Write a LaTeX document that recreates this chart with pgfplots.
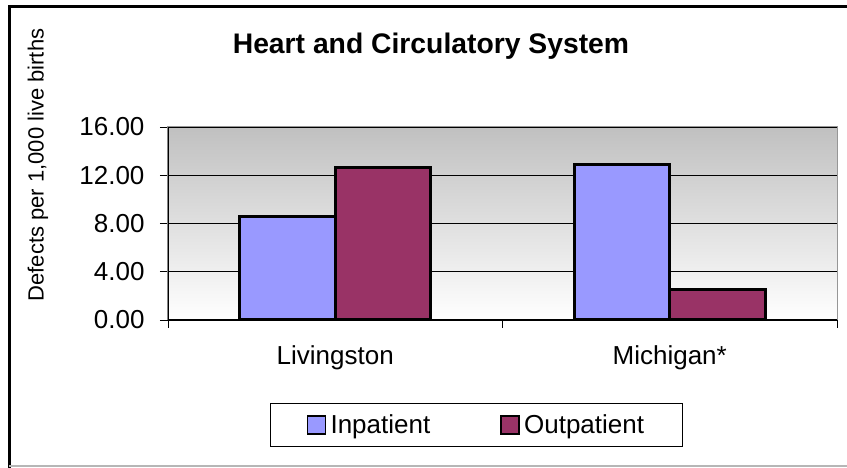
\documentclass[border=0pt]{standalone}
\usepackage{pgfplots}
\pgfplotsset{compat=1.18}
\usepackage{fontspec}
\setmainfont{Liberation Sans}
\definecolor{inp}{HTML}{9999FF}
\definecolor{outp}{HTML}{993366}
\definecolor{bgtop}{RGB}{192,192,192}
\definecolor{frgray}{RGB}{150,150,150}
\begin{document}
\begin{tikzpicture}[x=1pt,y=1pt]
\useasboundingbox (0,0) rectangle (847,468);
\draw[line width=3pt] (9,0) -- (9,461) -- (847,461);
\draw[frgray!70, line width=2pt] (9,1.5) -- (847,1.5);
\node[font=\fontsize{28.3}{32}\selectfont\bfseries] at (431,422) {Heart and Circulatory System};
\begin{axis}[
  at={(168pt,148pt)}, anchor=south west,
  scale only axis, width=669pt, height=193pt,
  xmin=0.5, xmax=2.5, ymin=0, ymax=16,
  ybar,
  axis background/.style={top color=bgtop, bottom color=white},
  axis line style={draw=frgray, line width=1pt},
  ytick={0,4,8,12,16},
  yticklabels={0.00,4.00,8.00,12.00,16.00},
  ymajorgrids,
  y grid style={black, line width=0.8pt},
  tick align=outside,
  xtick pos=bottom, ytick pos=left,
  major tick length=8pt,
  tick style={black, line width=0.8pt},
  tick label style={font=\fontsize{26}{30}\selectfont},
  yticklabel style={xshift=-12pt},
  xtick={0.5,1.5,2.5},
  xticklabels={},
  extra x ticks={1,2},
  extra x tick labels={Livingston,Michigan*},
  extra x tick style={major tick length=0pt, xtick style={draw=none}, xticklabel style={yshift=-22pt}},
  ylabel={Defects per 1,000 live births},
  ylabel style={at={(rel axis cs:-0.1943,0.803)}, anchor=center, font=\fontsize{22}{24}\selectfont},
  legend style={at={(0.461,-0.544)}, anchor=center, draw=black, line width=0.8pt,
    inner xsep=36pt, inner ysep=9pt,
    font=\fontsize{26}{30}\selectfont, legend columns=2,
    /tikz/every even column/.append style={column sep=68pt}},
  legend image code/.code={\draw[#1, line width=1.6pt] (0pt,-9pt) rectangle (18pt,9pt); \path[draw=none,fill=none] (0pt,0pt) -- (21pt,0pt);},
]
\addplot[fill=inp, draw=black, line width=3pt, bar width=95.5pt, bar shift=-47.75pt] coordinates {(1,8.6) (2,12.85)};
\addplot[fill=outp, draw=black, line width=3pt, bar width=95.5pt, bar shift=47.75pt] coordinates {(1,12.65) (2,2.55)};
\legend{Inpatient,Outpatient}
\draw[black, line width=1.2pt] (rel axis cs:0,1) -- (rel axis cs:0,0) -- (rel axis cs:1,0);
\end{axis}
\end{tikzpicture}
\end{document}
